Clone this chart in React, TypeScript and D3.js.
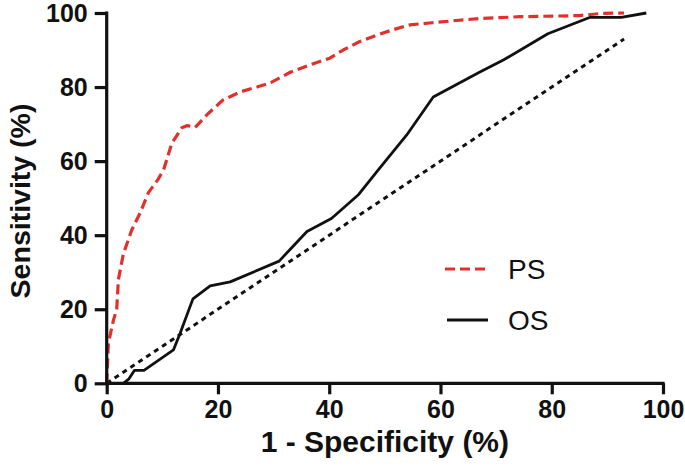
import React, { useEffect, useRef } from "react";
import * as d3 from "d3";

const psX = [0, 0.3, 1.2, 1.8, 2.1, 3, 4.5, 6, 7.5, 9.2, 10.2, 11.7, 13.5, 14.5, 15.9, 18.2, 20.9, 24, 27, 29.5, 33, 36.5, 40.1, 42.5, 45.5, 48.5, 51.5, 54.5, 58, 62.3, 67, 74.3, 85, 89, 93];
const psY = [0, 10.8, 17, 20, 28, 35, 41.4, 46, 51.5, 55, 57.5, 64.8, 69, 69.6, 69.1, 72.8, 76.5, 78.7, 80, 81.2, 84, 86, 87.8, 90, 92.3, 94, 95.5, 96.8, 97.3, 97.9, 98.5, 99, 99.3, 99.9, 100];
const osX = [0, 3, 4, 5, 6.7, 12, 13.2, 15.5, 18.6, 22.2, 31, 36, 40.4, 45.3, 49, 53.9, 58.7, 67, 71.3, 79.3, 86.8, 92.5, 97];
const osY = [0, 0, 1.2, 3.5, 3.5, 9, 13.5, 22.8, 26.3, 27.4, 33, 41, 44.5, 51, 58, 67, 77.3, 84, 87.3, 94.4, 98.8, 98.8, 100];
const refX = [0, 93];
const refY = [0, 93];
const tickValues = [0, 20, 40, 60, 80, 100];
const seriesNames = ["PS", "OS"];
const xTitle = "1 - Specificity (%)";
const yTitle = "Sensitivity (%)";

const W = 685;
const H = 473;
const RED = "#e2312d";
const FONT = "'Liberation Sans', Arial, sans-serif";

export default function App() {
  const gx = useRef<SVGGElement>(null);
  const gy = useRef<SVGGElement>(null);
  const x = d3.scaleLinear().domain([0, 100]).range([106.7, 663]);
  const y = d3.scaleLinear().domain([0, 100]).range([383.3, 13]);

  useEffect(() => {
    const ax = d3.axisBottom(x).tickValues(tickValues).tickSize(11).tickPadding(6).tickFormat(d3.format("d"));
    const ay = d3.axisLeft(y).tickValues(tickValues).tickSize(12).tickPadding(7).tickFormat(d3.format("d"));
    const sx = d3.select(gx.current!).call(ax as any);
    const sy = d3.select(gy.current!).call(ay as any);
    [sx, sy].forEach((s) => {
      s.select(".domain").attr("stroke", "#111").attr("stroke-width", 3.2).attr("stroke-linecap", "square");
      s.selectAll(".tick line").attr("stroke", "#111").attr("stroke-width", 3.2);
      s.selectAll(".tick text")
        .attr("fill", "#111")
        .style("font-family", FONT)
        .style("font-weight", "bold")
        .style("font-size", "25px");
    });
    sx.select(".domain").attr("d", `M${x(0)},0H${x(100)}`);
    sy.select(".domain").attr("d", `M0,${y(0)}V${y(100)}`);
  }, []);

  const line = (xs: number[], ys: number[]) =>
    d3.line<number>().x((_, i) => x(xs[i])).y((_, i) => y(ys[i]))(xs) || "";

  return (
    <svg width={W} height={H} style={{ position: "absolute", left: 0, top: 0, background: "#fff" }}>
      <path d={line(refX, refY)} fill="none" stroke="#111" strokeWidth={3} strokeDasharray="5 4.5" />
      <path d={line(osX, osY)} fill="none" stroke="#111" strokeWidth={2.8} strokeLinejoin="round" />
      <path d={line(psX, psY)} fill="none" stroke={RED} strokeWidth={3.2} strokeDasharray="10 5" strokeLinejoin="round" />
      <g ref={gx} transform={`translate(0,${y(0)})`} />
      <g ref={gy} transform={`translate(${x(0)},0)`} />
      <text x={(x(0) + x(100)) / 2} y={452} textAnchor="middle" fontFamily={FONT} fontWeight="bold" fontSize={30} fill="#111">
        {xTitle}
      </text>
      <text transform={`translate(30,201) rotate(-90)`} textAnchor="middle" fontFamily={FONT} fontWeight="bold" fontSize={28.5} fill="#111">
        {yTitle}
      </text>
      <g>
        <line x1={445} x2={485} y1={269} y2={269} stroke={RED} strokeWidth={3.2} strokeDasharray="10 5" />
        <text x={508} y={279} fontFamily={FONT} fontSize={28} fill="#111">{seriesNames[0]}</text>
        <line x1={447} x2={488} y1={320} y2={320} stroke="#111" strokeWidth={2.8} />
        <text x={508} y={330} fontFamily={FONT} fontSize={28} fill="#111">{seriesNames[1]}</text>
      </g>
    </svg>
  );
}
